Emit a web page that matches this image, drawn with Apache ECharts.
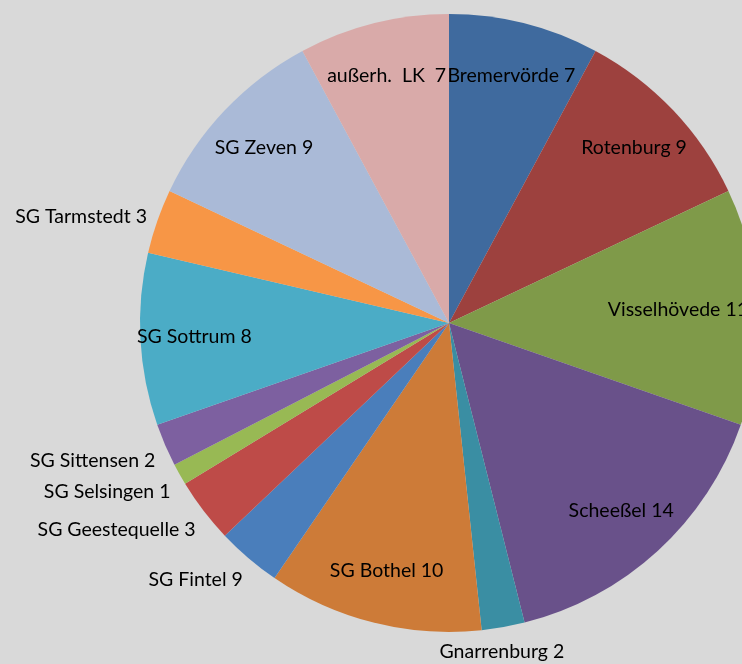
<!DOCTYPE html>
<html>
<head>
<meta charset="utf-8">
<script src="https://cdn.jsdelivr.net/npm/echarts@6/dist/echarts.min.js"></script>
<style>
  html, body { margin: 0; padding: 0; background: #d9d9d9; }
  #main { width: 742px; height: 664px; }
</style>
</head>
<body>
<div id="main"></div>
<script>
/*数据*/
var names = ['Bremervörde', 'Rotenburg', 'Visselhövede', 'Scheeßel', 'Gnarrenburg', 'SG Bothel', 'SG Fintel',
    'SG Geestequelle', 'SG Selsingen', 'SG Sittensen', 'SG Sottrum', 'SG Tarmstedt', 'SG Zeven', 'außerh.  LK'];
var values = [7, 9, 11, 14, 2, 10, 3, 3, 1, 2, 8, 3, 9, 7];
// label text as printed in the chart (Fintel label reads 9)
var labelTexts = ['Bremervörde 7', 'Rotenburg 9', 'Visselhövede 11', 'Scheeßel 14', 'Gnarrenburg 2', 'SG Bothel 10',
    'SG Fintel 9', 'SG Geestequelle 3', 'SG Selsingen 1', 'SG Sittensen 2', 'SG Sottrum 8', 'SG Tarmstedt 3',
    'SG Zeven 9', 'außerh.  LK  7'];
var labelPlace = ['in', 'in', 'in', 'in', 'out', 'in', 'out', 'out', 'out', 'out', 'in', 'out', 'in', 'in'];
var colors = ['#3f6a9e', '#9d413e', '#7f9a49', '#69518a', '#3a8ea3', '#cd7b38', '#4a7ebb',
    '#be4b48', '#98b954', '#7d60a0', '#4bacc6', '#f79646', '#aabad7', '#d9aaa9'];

var W = 742;
var CX = 449, CY = 323, R = 309;
var FONT = { fontFamily: 'Lato', fontSize: 19.5, color: '#000' };

var chart = echarts.init(document.getElementById('main'));

var mainData = [], ringData = [];
for (var i = 0; i < values.length; i++) {
    mainData.push({
        name: names[i], value: values[i],
        itemStyle: { color: colors[i] },
        label: { show: labelPlace[i] === 'out' }
    });
    ringData.push({
        name: names[i], value: values[i],
        label: { show: labelPlace[i] === 'in' }
    });
}

var labelFmt = function (p) { return labelTexts[p.dataIndex]; };

chart.setOption({
    backgroundColor: '#d9d9d9',
    animation: false,
    series: [{
        type: 'pie',
        center: [CX, CY],
        radius: R,
        startAngle: 90,
        clockwise: true,
        avoidLabelOverlap: false,
        silent: true,
        label: Object.assign({ position: 'outside', formatter: labelFmt }, FONT),
        labelLine: { show: false, length: 15, length2: -9 },
        // excel-like: outside labels below the middle hang from the anchor
        labelLayout: function (p) {
            var r = p.labelRect;
            var cy = r.y + r.height / 2;
            var cx = p.align === 'right' ? r.x + r.width : (p.align === 'left' ? r.x : r.x + r.width / 2);
            var out = {};
            if (cy > CY) out.verticalAlign = 'top';
            if (Math.abs(cx - CX) < R * 0.3) out.align = 'center';
            return out;
        },
        data: mainData
    }, {
        // transparent ring, only carries the inside labels
        type: 'pie',
        center: [CX, CY],
        radius: [195, R],
        startAngle: 90,
        clockwise: true,
        silent: true,
        itemStyle: { color: 'rgba(0,0,0,0)' },
        label: Object.assign({ position: 'inside', formatter: labelFmt }, FONT),
        labelLine: { show: false },
        // keep label inside the canvas (best fit)
        labelLayout: function (p) {
            var r = p.labelRect;
            var over = r.x + r.width - (W + 6);
            return over > 0 ? { dx: -over } : {};
        },
        data: ringData
    }]
});
</script>
</body>
</html>
